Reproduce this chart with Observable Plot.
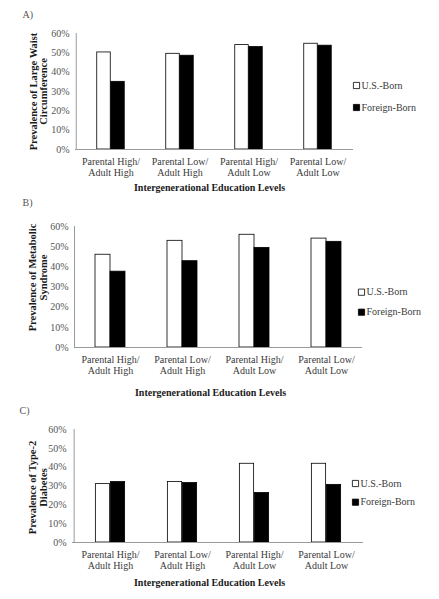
<!DOCTYPE html>
<html>
<head>
<meta charset="utf-8">
<script src="https://cdn.jsdelivr.net/npm/d3@7"></script>
<script src="https://cdn.jsdelivr.net/npm/@observablehq/plot@0.6"></script>
<style>
  body { margin: 0; background: #fff; }
  #root { position: relative; width: 439px; height: 599px; background: #fff; }
  .panel { position: absolute; left: 0; }
  .panel svg, .panel svg text { font-family: "Liberation Serif", "Times New Roman", serif !important; }
</style>
</head>
<body>
<div id="root"></div>
<script>
// ---- data ----
const categories = ["Parental High/\nAdult High", "Parental Low/\nAdult High", "Parental High/\nAdult Low", "Parental Low/\nAdult Low"];
const series = ["U.S.-Born", "Foreign-Born"];
const waistUS = [50.2, 49.5, 54.0, 54.7];
const waistFB = [35.0, 48.5, 53.0, 53.7];
const metsUS = [46.0, 52.9, 55.9, 54.0];
const metsFB = [37.6, 42.8, 49.4, 52.4];
const diabUS = [31.0, 32.1, 41.8, 41.8];
const diabFB = [32.1, 31.6, 26.3, 30.6];
const yTicks = [0, 10, 20, 30, 40, 50, 60];
const panelLabels = ["A)", "B)", "C)"];
const yTitles = [["Prevalence of Large Waist", "Circumference"], ["Prevalence of Metabolic", "Syndrome"], ["Prevalence of Type-2", "Diabetes"]];
const xTitle = "Intergenerational Education Levels";

// ---- layout (positions/styles only) ----
const layouts = [
  {top: 0,   height: 195, mt: 33, mb: 46, ml: 75, mr: 86, barW: 14, labelX: 22, labelY: 14, catDy: 17.5, titleDy: 38, titleX: 209, yTitleX: [33, 43.5], yTitleY: 91, legBoxX: 356, legTextX: 361, legY: [85, 107]},
  {top: 195, height: 205, mt: 31, mb: 53, ml: 74, mr: 77, barW: 15, labelX: 22, labelY: 7, catDy: 17.5, titleDy: 45, titleX: 210, yTitleX: [32, 43], yTitleY: 82, legBoxX: 361, legTextX: 366, legY: [96.7, 116.7]},
  {top: 400, height: 199, mt: 29, mb: 57, ml: 72, mr: 76, barW: 15, labelX: 19, labelY: 10, catDy: 17, titleDy: 40, titleX: 209, yTitleX: [32, 43], yTitleY: 87, legBoxX: 355, legTextX: 360, legY: [83, 101.7]}
];

const panels = [
  {us: waistUS, fb: waistFB},
  {us: metsUS, fb: metsFB},
  {us: diabUS, fb: diabFB}
];

const W = 439;
const root = document.getElementById("root");
const textColor = "#3a3a3a";
const axisGrey = "#9a9a9a";
const serif = "Liberation Serif";

panels.forEach((p, k) => {
  const L = layouts[k];
  const rows = categories.flatMap((c, i) => [
    {category: c, series: series[0], value: p.us[i]},
    {category: c, series: series[1], value: p.fb[i]}
  ]);
  const bw = (W - L.ml - L.mr) / categories.length;
  const frameCx = (L.ml + (W - L.mr)) / 2;
  const frameCy = (L.mt + (L.height - L.mb)) / 2;

  const legendMarks = series.flatMap((s, i) => [
    Plot.dot([s], {frameAnchor: "top-left", dx: L.legBoxX - L.ml, dy: L.legY[i] - L.mt,
      symbol: "square", r: 3.5, fill: i === 0 ? "#fff" : "#000", stroke: "#000", strokeWidth: 0.8}),
    Plot.text([s], {frameAnchor: "top-left", dx: L.legTextX - L.ml, dy: L.legY[i] - L.mt,
      textAnchor: "start", lineAnchor: "middle", fontSize: 10, fontFamily: serif, fill: textColor})
  ]);

  const yTitleMarks = yTitles[k].map((t, j) =>
    Plot.text([t], {frameAnchor: "left", dx: L.yTitleX[j] - L.ml, dy: L.yTitleY - frameCy,
      rotate: -90, textAnchor: "middle", lineAnchor: "middle",
      fontSize: 10.5, fontWeight: "bold", fontFamily: serif, fill: "#1a1a1a"})
  );

  const chart = Plot.plot({
    width: W,
    height: L.height,
    marginTop: L.mt,
    marginBottom: L.mb,
    marginLeft: L.ml,
    marginRight: L.mr,
    style: {fontFamily: serif, fontSize: "10px", background: "#fff", color: textColor, overflow: "visible"},
    x: {domain: categories, padding: 0, axis: null},
    y: {domain: [0, 60], axis: null},
    marks: [
      Plot.barY(rows.filter(d => d.series === series[0]), {
        x: "category", y: "value", fill: "#fff", stroke: "#000", strokeWidth: 0.8,
        insetLeft: bw / 2 - L.barW, insetRight: bw / 2
      }),
      Plot.barY(rows.filter(d => d.series === series[1]), {
        x: "category", y: "value", fill: "#000", stroke: "#000", strokeWidth: 0.8,
        insetLeft: bw / 2, insetRight: bw / 2 - L.barW
      }),
      Plot.ruleY([0], {stroke: axisGrey, strokeWidth: 1}),
      Plot.ruleX([categories[0]], {dx: -bw / 2, stroke: axisGrey, strokeWidth: 1}),
      Plot.axisY({ticks: yTicks, tickFormat: d => d + "%", tickSize: 0, tickPadding: 6,
        fontSize: 10, fontFamily: serif, fill: "#555", label: null}),
      Plot.text(categories, {x: d => d, frameAnchor: "bottom", dy: L.catDy,
        lineAnchor: "middle", lineHeight: 1.1, fontSize: 10, fontFamily: serif, fill: textColor}),
      Plot.text([xTitle], {frameAnchor: "bottom", dx: L.titleX - frameCx, dy: L.titleDy,
        lineAnchor: "middle", fontSize: 10, fontWeight: "bold", fontFamily: serif, fill: "#1a1a1a"}),
      ...yTitleMarks,
      Plot.text([panelLabels[k]], {frameAnchor: "top-left", dx: L.labelX - L.ml, dy: L.labelY - L.mt,
        textAnchor: "start", lineAnchor: "middle", fontSize: 10, fontFamily: serif, fill: "#555"}),
      ...legendMarks
    ]
  });
  const holder = document.createElement("div");
  holder.className = "panel";
  holder.style.top = L.top + "px";
  holder.appendChild(chart);
  root.appendChild(holder);
});
</script>
</body>
</html>
